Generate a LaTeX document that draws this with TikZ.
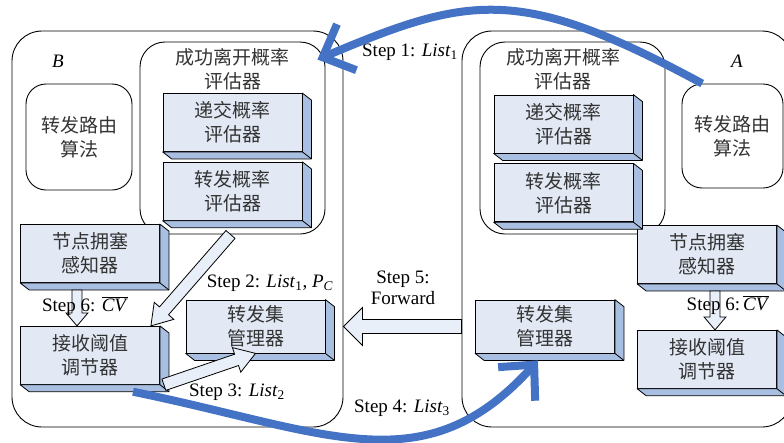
\documentclass[tikz,border=0pt]{standalone}
\usepackage{fontspec}
\setmainfont{Liberation Serif}
\newfontfamily\cjk{Noto Sans CJK SC}
\usepackage{tikz}
\usetikzlibrary{positioning,calc,arrows.meta}
\definecolor{slabfront}{HTML}{E2E9F5}
\definecolor{slabside}{HTML}{A9BFE1}
\definecolor{flowblue}{HTML}{4472C4}
\definecolor{hollowfill}{HTML}{E9EFF8}
\newcommand{\lst}[1]{\textit{List}\textsubscript{#1}}
\newcommand{\cvbar}{$\overline{\mbox{\textit{CV}}}$}
\newcommand{\blockarrow}[5]{%
	\coordinate (hb) at ($(#2)!#5!(#1)$);
	\draw[hollow] ($(#1)!#3!90:(#2)$) -- ($(hb)!#3!90:(#2)$) -- ($(hb)!#4!90:(#2)$) -- (#2)
		-- ($(hb)!#4!-90:(#2)$) -- ($(hb)!#3!-90:(#2)$) -- ($(#1)!#3!-90:(#2)$) -- cycle;
}

\begin{document}
\begin{tikzpicture}[x=1pt,y=-1pt,
		roundbox/.style={draw,line width=0.9pt,rounded corners=#1,inner sep=0pt},
		roundbox/.default=25pt,
		slab/.style={draw,line width=0.8pt,fill=slabfront,minimum width=139pt,minimum height=58pt,inner sep=0pt,align=center,text=black!80,font=\cjk\fontsize{19}{24}\selectfont},
		cnlabel/.style={align=center,inner sep=0pt,text=black!80,font=\cjk\fontsize{19}{24}\selectfont},
		steplbl/.style={align=center,inner sep=0pt,font=\fontsize{19}{21}\selectfont},
		hollow/.style={draw,line width=0.8pt,fill=hollowfill,line join=miter},
		flow/.style={draw=flowblue,line width=8pt,-{Straight Barb[length=26pt,width=50pt,line cap=butt,line join=miter]}}]
	\useasboundingbox (0,0) rectangle (784,442);
	\node[roundbox=30pt,minimum width=331pt,minimum height=396pt] (bb) at (177.5,229) {};
	\node[roundbox=30pt,minimum width=330pt,minimum height=396pt] (ba) at (627,229) {};
	\node[roundbox,minimum width=185pt,minimum height=192pt] (ibb) at (232.5,138) {};
	\node[roundbox,minimum width=185pt,minimum height=192pt] (iba) at (572.5,138) {};
	\node[roundbox=20pt,minimum width=106pt,minimum height=106pt] (rrb) at (79,137) {};
	\node[roundbox=20pt,minimum width=101pt,minimum height=104pt] (rra) at (732.5,136) {};
	\node[cnlabel] at (rrb) {转发路由\\算法};
	\node[cnlabel] at (rra) {转发路由\\算法};
	\node[cnlabel] (tb) at (232.5,69.5) {成功离开概率\\评估器};
	\node[cnlabel] (ta) at (563,69.5) {成功离开概率\\评估器};
	\node[steplbl] (lb) at (58,61) {\textit{B}};
	\node[steplbl] (la) at (737,61) {\textit{A}};

	\node[slab] (dpb) at (232.5,122.5) {递交概率\\评估器};
	\node[slab] (fpb) [below=10pt of dpb] {转发概率\\评估器};
	\node[slab] (ncb) at (90,253.5) {节点拥塞\\感知器};
	\node[slab] (rtb) [below=43pt of ncb] {接收阈值\\调节器};
	\node[slab,minimum height=53pt] (fsb) at (255.5,326.5) {转发集\\管理器};
	\node[slab] (dpa) at (563.5,124) {递交概率\\评估器};
	\node[slab] (fpa) [below=10pt of dpa] {转发概率\\评估器};
	\node[slab] (nca) at (707,254.5) {节点拥塞\\感知器};
	\node[slab] (rta) [below=46pt of nca] {接收阈值\\调节器};
	\node[slab,minimum height=53pt] (fsa) at (545,326.5) {转发集\\管理器};
	\foreach \s in {dpb,fpb,ncb,rtb,fsb,dpa,fpa,nca,rta,fsa}{
		\filldraw[slabside,draw=black,line width=0.8pt,line join=round] (\s.north east) -- ++(9,7) -- ($(\s.south east)+(9,7)$)
			-- ($(\s.south west)+(9,7)$) -- (\s.south west) -- (\s.south east) -- cycle;
		\draw[line width=0.8pt] (\s.south east) -- ++(9,7);
	}

	\coordinate (s6b) at ($(ncb.south)+(-13,7)$);
	\coordinate (e6b) at ($(rtb.north)+(-13,0)$);
	\blockarrow{s6b}{e6b}{5pt}{11pt}{13pt}
	\coordinate (s6a) at ($(nca.south)+(8,7)$);
	\coordinate (e6a) at ($(rta.north)+(8,0)$);
	\blockarrow{s6a}{e6a}{5pt}{11pt}{13pt}
	\coordinate (s2) at ($(ibb.south)+(-2,0)$);
	\coordinate (e2) at ($(rtb.north east)+(-9,0)$);
	\blockarrow{s2}{e2}{6pt}{13pt}{20pt}
	\coordinate (s3) at ($(rtb.south east)+(4,0)$);
	\coordinate (e3) at (fsb.south);
	\blockarrow{s3}{e3}{6pt}{13pt}{20pt}
	\coordinate (s5) at (ba.west |- fsb.east);
	\coordinate (e5) at (bb.east |- fsb.east);
	\blockarrow{s5}{e5}{7pt}{19pt}{19pt}

	\node[steplbl] (l6b) at (85,306) {Step 6: \cvbar};
	\node[steplbl] (l6a) at (728,305) {Step 6:\,\cvbar};
	\node[steplbl] (l2) at (270,283) {Step 2: \lst{1}, \textit{P}\textsubscript{\textit{C}}};
	\node[steplbl] (l3) at (237,392) {Step 3: \lst{2}};
	\node[steplbl] (l5) at (403,288) {Step 5:\\Forward};
	\node[steplbl] (l1) at (410,52) {Step 1: \lst{1}};
	\node[steplbl] (l4) at (402,408) {Step 4: \lst{3}};

	\coordinate (e1) at ($(ibb.north east)+(-8,18)$);
	\draw[flow] (rra.120) .. controls (520,-15) and (470,-5) .. (e1);
	\coordinate (s4) at ($(rtb.south)+(43,7)$);
	\coordinate (e4) at ($(fsa.south)+(-7,7)$);
	\draw[flow] (s4) .. controls (329,432) and (424,486) .. (e4);
\end{tikzpicture}
\end{document}
